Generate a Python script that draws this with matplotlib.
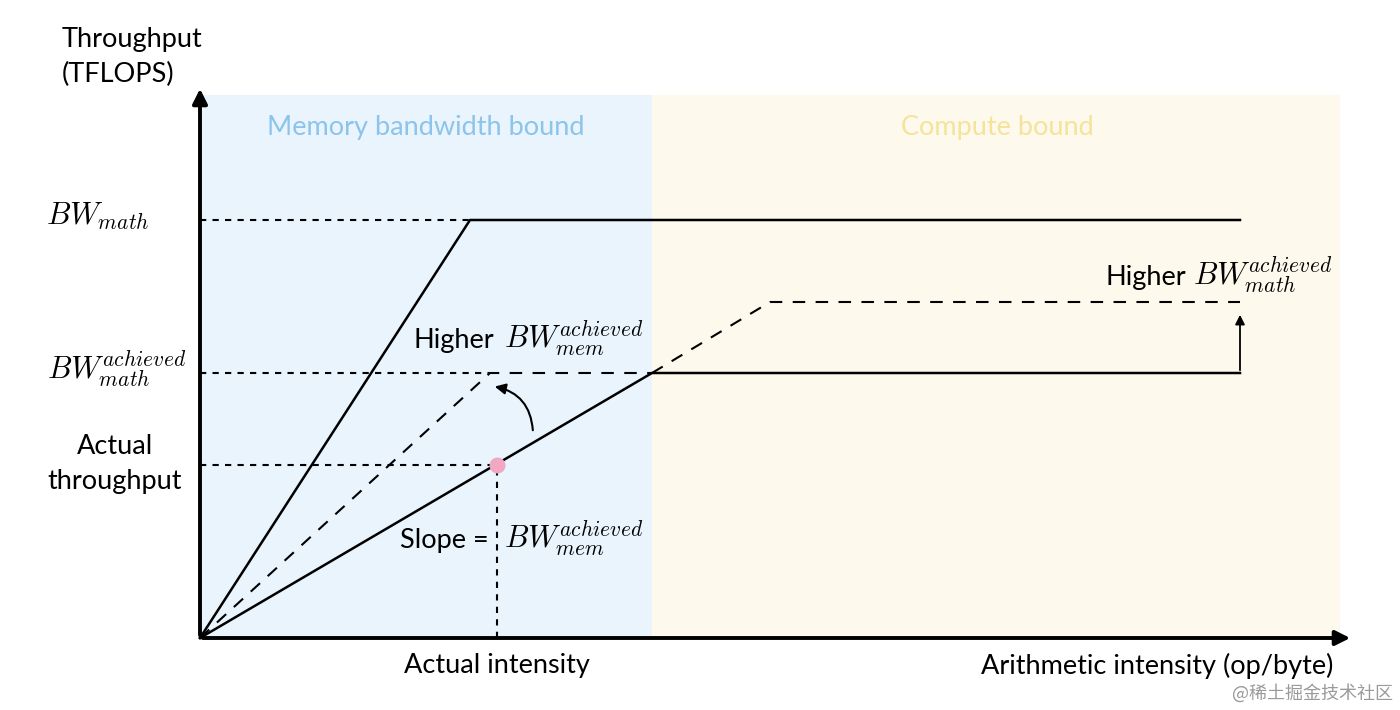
import numpy as np
import matplotlib.pyplot as plt
from matplotlib.patches import FancyArrowPatch

plt.rcParams['mathtext.fontset'] = 'cm'
plt.rcParams['font.family'] = ['Lato', 'Noto Sans CJK SC', 'DejaVu Sans']

# roofline data (arbitrary units: intensity, throughput)
bw_math = 418
bw_achieved = 265
bw_math_higher = 336
roof_x = [0, 270, 1040]
roof_y = [0, bw_math, bw_math]
achieved_x = [0, 452, 1040]
achieved_y = [0, bw_achieved, bw_achieved]
higher_mem_x = [0, 290, 452]
higher_mem_y = [0, bw_achieved, bw_achieved]
higher_math_x = [452, 570, 1040]
higher_math_y = [bw_achieved, bw_math_higher, bw_math_higher]
actual_x = 297
actual_y = 173
mem_region = [0, 452]
compute_region = [452, 1140]
region_top = 543

fs = 19.5
mfs = 22

fig = plt.figure(figsize=(14, 7.1), dpi=100)
ax = fig.add_axes([0, 0, 1, 1])
ax.set_xlim(-200, 1200)
ax.set_ylim(-72, 638)
ax.axis('off')

# shaded regions
ax.fill_between(mem_region, 0, region_top, color='#e9f4fd', lw=0, zorder=0)
ax.fill_between(compute_region, 0, region_top, color='#fdf9ec', lw=0, zorder=0)
ax.text(np.mean(mem_region), 511, 'Memory bandwidth bound', color='#8cc4ec',
        fontsize=fs, ha='center', va='center')
ax.text(797, 511, 'Compute bound', color='#f6e39a',
        fontsize=fs, ha='center', va='center')

# axes arrows
ax.annotate('', xy=(0, 552), xytext=(0, 0),
            arrowprops=dict(arrowstyle='-|>', color='black', lw=2.8, mutation_scale=22))
ax.annotate('', xy=(1153, 0), xytext=(0, 0),
            arrowprops=dict(arrowstyle='-|>', color='black', lw=2.8, mutation_scale=22))

# rooflines
ax.plot(roof_x, roof_y, color='black', lw=1.8)
ax.plot(achieved_x, achieved_y, color='black', lw=1.8)
ax.plot(higher_mem_x, higher_mem_y, color='black', lw=1.5, dashes=(6, 5))
ax.plot(higher_math_x, higher_math_y, color='black', lw=1.5, dashes=(6, 5))

# reference lines
ax.plot([0, roof_x[1]], [bw_math, bw_math], color='black', lw=1.5, dashes=(3, 3))
ax.plot([0, higher_mem_x[1]], [bw_achieved, bw_achieved], color='black', lw=1.5, dashes=(3, 3))
ax.plot([0, actual_x], [actual_y, actual_y], color='black', lw=1.5, dashes=(3, 3))
ax.plot([actual_x, actual_x], [0, actual_y], color='black', lw=1.5, dashes=(3, 3))
ax.scatter([actual_x], [actual_y], s=110, color='#f2a7c3', zorder=5)

# arrows
ax.add_patch(FancyArrowPatch((333, 205), (292, 252), connectionstyle='arc3,rad=0.4',
                             arrowstyle='-|>', mutation_scale=16, color='black', lw=1.5))
ax.annotate('', xy=(1040, bw_math_higher - 10), xytext=(1040, bw_achieved),
            arrowprops=dict(arrowstyle='-|>', color='black', lw=1.3, mutation_scale=14))

# labels
ax.text(-138, 598, 'Throughput', fontsize=fs, ha='left', va='center')
ax.text(-138, 564, '(TFLOPS)', fontsize=fs, ha='left', va='center')
ax.text(-102, bw_math + 4, r'$BW_{math}$', fontsize=mfs, ha='center', va='center')
ax.text(-83, bw_achieved + 4, r'$BW^{achieved}_{math}$', fontsize=mfs, ha='center', va='center')
ax.text(-85, 192, 'Actual', fontsize=fs, ha='center', va='center')
ax.text(-85, 156, 'throughput', fontsize=fs, ha='center', va='center')

ax.text(213, 290, 'Higher', fontsize=fs, ha='left', va='baseline')
ax.text(304, 290, r'$BW^{achieved}_{mem}$', fontsize=mfs, ha='left', va='baseline')
ax.text(200, 90, 'Slope =', fontsize=fs, ha='left', va='baseline')
ax.text(304, 90, r'$BW^{achieved}_{mem}$', fontsize=mfs, ha='left', va='baseline')
ax.text(905, 353, 'Higher', fontsize=fs, ha='left', va='baseline')
ax.text(993, 353, r'$BW^{achieved}_{math}$', fontsize=mfs, ha='left', va='baseline')

ax.text(actual_x, -28, 'Actual intensity', fontsize=fs, ha='center', va='center')
ax.text(1133, -28, 'Arithmetic intensity (op/byte)', fontsize=fs, ha='right', va='center')
ax.text(1193, -55, '@稀土掘金技术社区', fontsize=13, color='#9a9a9a', ha='right', va='center',
        family=['Noto Sans CJK SC', 'DejaVu Sans'])

fig.savefig('out.png', dpi=100)
